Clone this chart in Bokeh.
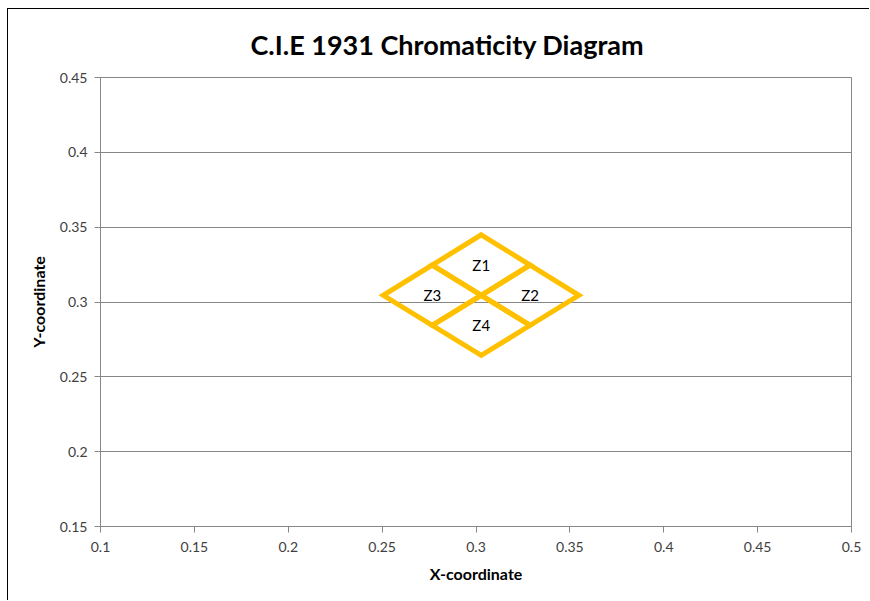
from bokeh.plotting import figure
from bokeh.models import FixedTicker, Range1d
from bokeh.core.properties import value
from bokeh.embed import file_html
from bokeh.resources import INLINE

# ---- data ----
zone_names = ["Z1", "Z2", "Z3", "Z4"]
# corner points of each quadrangle (x, y chromaticity)
zone_x = [
    [0.3028, 0.3288, 0.3028, 0.2767],
    [0.3288, 0.3548, 0.3288, 0.3028],
    [0.2767, 0.3028, 0.2767, 0.2506],
    [0.3028, 0.3288, 0.3028, 0.2767],
]
zone_y = [
    [0.3449, 0.3247, 0.3045, 0.3247],
    [0.3247, 0.3045, 0.2844, 0.3045],
    [0.3247, 0.3045, 0.2844, 0.3045],
    [0.3045, 0.2844, 0.2643, 0.2844],
]
x_ticks = [0.1, 0.15, 0.2, 0.25, 0.3, 0.35, 0.4, 0.45, 0.5]
x_tick_labels = ["0.1", "0.15", "0.2", "0.25", "0.3", "0.35", "0.4", "0.45", "0.5"]
y_ticks = [0.15, 0.2, 0.25, 0.3, 0.35, 0.4, 0.45]
y_tick_labels = ["0.15", "0.2", "0.25", "0.3", "0.35", "0.4", "0.45"]

FONT = "Lato"
GRID = "#878787"
GOLD = "#FFC000"

p = figure(width=862, height=592, output_backend="svg", toolbar_location=None,
           x_range=Range1d(0.1, 0.5), y_range=Range1d(0.15, 0.45),
           title="C.I.E 1931 Chromaticity Diagram")
p.min_border_left = 92
p.min_border_right = 19
p.min_border_top = 68
p.min_border_bottom = 75
p.styles = {"margin-left": "7px", "margin-top": "8px",
            "border-left": "1px solid black", "border-top": "1px solid black"}

p.title.align = "left"
p.title.offset = 150
p.title.text_font = FONT
p.title.text_font_size = "27px"
p.title.text_font_style = "bold"
p.title.text_color = "black"
p.title.standoff = 33

p.outline_line_color = GRID
p.outline_line_width = 1

p.xgrid.visible = False
p.ygrid.grid_line_color = GRID
p.ygrid.grid_line_width = 1

p.xaxis.ticker = FixedTicker(ticks=x_ticks)
p.yaxis.ticker = FixedTicker(ticks=y_ticks)
p.xaxis.major_label_overrides = {t: l for t, l in zip(x_ticks, x_tick_labels)}
p.yaxis.major_label_overrides = {t: l for t, l in zip(y_ticks, y_tick_labels)}

for ax in (p.xaxis, p.yaxis):
    ax.axis_line_color = GRID
    ax.major_tick_line_color = GRID
    ax.minor_tick_line_color = None
    ax.major_tick_in = 0
    ax.major_tick_out = 6
    ax.major_label_text_font = FONT
    ax.major_label_text_font_size = "14px"
    ax.major_label_text_color = "#404040"
    ax.axis_label_text_font = FONT
    ax.axis_label_text_font_size = "16px"
    ax.axis_label_text_font_style = "bold"
    ax.axis_label_text_color = "black"

p.xaxis.axis_label = "X-coordinate"
p.yaxis.axis_label = "Y-coordinate"
p.xaxis.major_label_standoff = 9
p.xaxis.axis_label_standoff = 9
p.yaxis.major_label_standoff = 7
p.yaxis.axis_label_standoff = 9

p.patches(xs=zone_x, ys=zone_y, fill_color=None, line_color=GOLD,
          line_width=5, line_join="miter")

cx = [sum(v) / 4 for v in zone_x]
cy = [sum(v) / 4 for v in zone_y]
p.text(x=cx, y=cy, text=zone_names, text_align="center", text_baseline="middle",
       text_font=value(FONT), text_font_size="15px", text_color="black")

open("out.html", "w").write(file_html(p, INLINE))
